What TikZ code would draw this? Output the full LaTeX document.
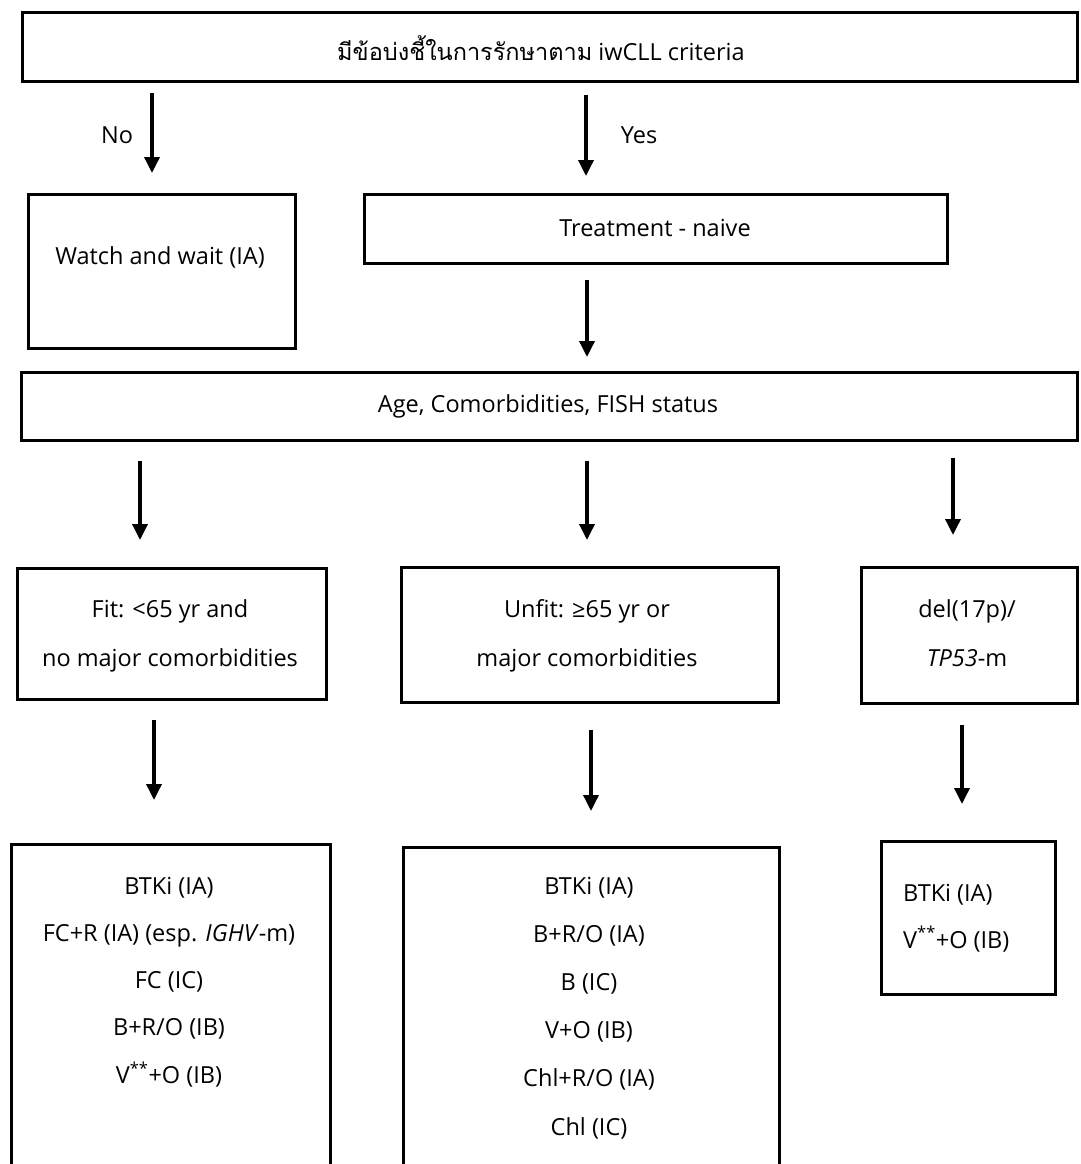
\documentclass[tikz,border=0pt]{standalone}
\usepackage{fontspec}
\setmainfont{Open Sans}
\newfontfamily\thaifont[Script=Thai]{Loma}
\usetikzlibrary{arrows.meta}

\begin{document}
\begin{tikzpicture}[x=1pt,y=-1pt,font=\fontsize{23.5}{28}\selectfont,>={Triangle[width=15pt,length=16pt]}]
    \tikzstyle{box}=[draw=black, line width=2.7pt, rectangle, inner sep=0pt, anchor=north west]
    \tikzstyle{txt}=[text=black, inner sep=0pt, anchor=base]
    \tikzstyle{flow}=[->, line width=3.5pt]

    \useasboundingbox (0,0) rectangle (1080,1164);

    % boxes
    \node[box, minimum width=1055pt, minimum height=69pt]  (criteria) at (21,11)   {};
    \node[box, minimum width=267pt,  minimum height=154pt] (wait)     at (27,193)  {};
    \node[box, minimum width=583pt,  minimum height=69pt]  (naive)    at (363,193) {};
    \node[box, minimum width=1056pt, minimum height=68pt]  (age)      at (20,371)  {};
    \node[box, minimum width=309pt,  minimum height=131pt] (fit)      at (16,567)  {};
    \node[box, minimum width=377pt,  minimum height=135pt] (unfit)    at (400,566) {};
    \node[box, minimum width=216pt,  minimum height=136pt] (del)      at (860,566) {};
    \node[box, minimum width=319pt,  minimum height=340pt] (fitrx)    at (10,843)  {};
    \node[box, minimum width=376pt,  minimum height=340pt] (unfitrx)  at (402,846) {};
    \node[box, minimum width=174pt,  minimum height=153pt] (delrx)    at (880,840) {};

    % texts
    \node[txt] (criteria-t) at (541,61)  {{\thaifont มีข้อบ่งชี้ในการรักษาตาม} iwCLL criteria};
    \node[txt] (no)         at (117,143) {No};
    \node[txt] (yes)        at (639,143) {Yes};
    \node[txt] (wait-t)     at (160,264) {Watch and wait (IA)};
    \node[txt] (naive-t)    at (655,236) {Treatment - naive};
    \node[txt] (age-t)      at (548,412) {Age, Comorbidities, FISH status};

    \node[txt] (fit-1)   at (170,617) {Fit: <65 yr and};
    \node[txt] (fit-2)   at (170,666) {no major comorbidities};
    \node[txt] (unfit-1) at (587,617) {Unfit: ≥65 yr or};
    \node[txt] (unfit-2) at (587,666) {major comorbidities};
    \node[txt] (del-1)   at (967,617) {del(17p)/};
    \node[txt] (del-2)   at (967,666) {\textit{TP53}-m};

    \foreach \t [count=\i] in {BTKi (IA), FC+R (IA) (esp. \textit{IGHV}-m), FC (IC), B+R/O (IB), V\textsuperscript{**}+O (IB)}
      \node[txt] (fitrx-\i) at (169,{894+47.3*(\i-1)}) {\t};
    \foreach \t [count=\i] in {BTKi (IA), B+R/O (IA), B (IC), V+O (IB), Chl+R/O (IA), Chl (IC)}
      \node[txt] (unfitrx-\i) at (589,{894+48.2*(\i-1)}) {\t};
    \foreach \t [count=\i] in {BTKi (IA), V\textsuperscript{**}+O (IB)}
      \node[txt, anchor=base west] (delrx-\i) at (903,{901+47*(\i-1)}) {\t};

    % arrows
    \coordinate (xno)  at (152,0);
    \coordinate (xyes) at (586,0);
    \coordinate (xmid) at (587,0);
    \coordinate (xfit) at (140,0);
    \coordinate (xdel) at (953,0);
    \coordinate (xfitrx)   at (154,0);
    \coordinate (xunfitrx) at (591,0);
    \coordinate (xdelrx)   at (962,0);

    \draw[flow, shorten <=10pt, shorten >=20pt] (criteria.south -| xno)  -- (wait.north -| xno);
    \draw[flow, shorten <=12pt, shorten >=17pt] (criteria.south -| xyes) -- (naive.north -| xyes);
    \draw[flow, shorten <=15pt, shorten >=14pt] (naive.south -| xmid)    -- (age.north -| xmid);
    \draw[flow, shorten <=19pt, shorten >=27pt] (age.south -| xfit)      -- (fit.north -| xfit);
    \draw[flow, shorten <=19pt, shorten >=26pt] (age.south -| xmid)      -- (unfit.north -| xmid);
    \draw[flow, shorten <=16pt, shorten >=31pt] (age.south -| xdel)      -- (del.north -| xdel);
    \draw[flow, shorten <=19pt, shorten >=43pt] (fit.south -| xfitrx)     -- (fitrx.north -| xfitrx);
    \draw[flow, shorten <=26pt, shorten >=35pt] (unfit.south -| xunfitrx) -- (unfitrx.north -| xunfitrx);
    \draw[flow, shorten <=20pt, shorten >=36pt] (del.south -| xdelrx)     -- (delrx.north -| xdelrx);
\end{tikzpicture}
\end{document}
